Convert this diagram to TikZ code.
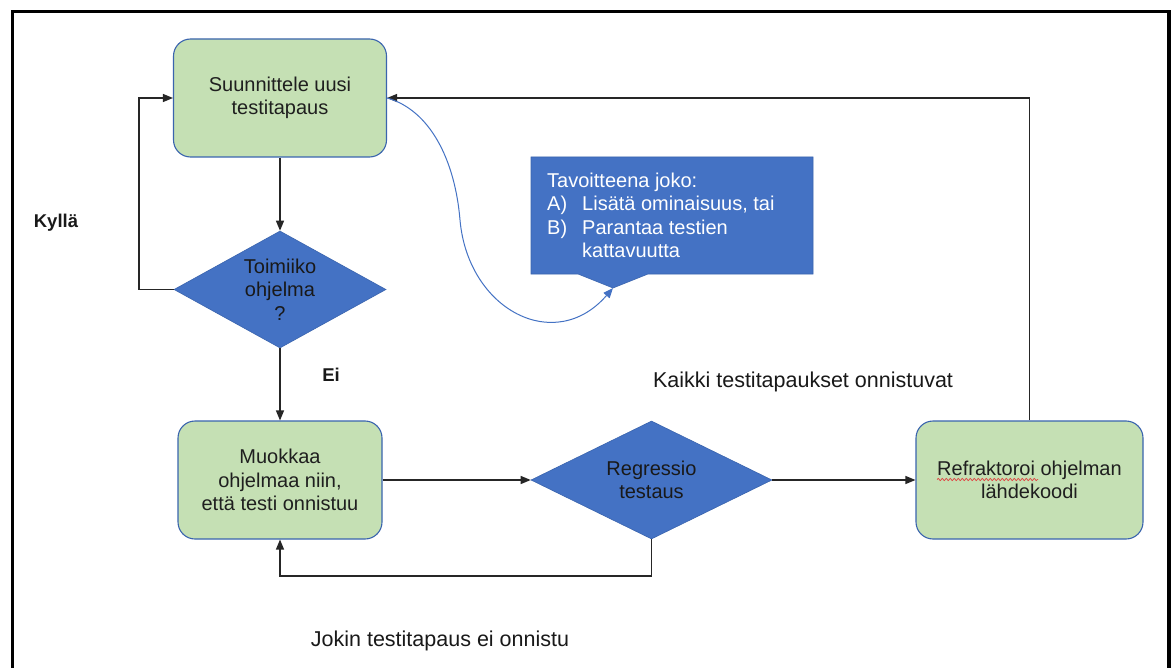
\documentclass[tikz,border=0pt]{standalone}
\usepackage{fontspec}
\setmainfont{Liberation Sans}
\usetikzlibrary{arrows.meta,shapes.geometric,decorations.pathmorphing}
\definecolor{boxgreen}{HTML}{C5E0B4}
\definecolor{shapeblue}{HTML}{4472C4}
\definecolor{edgeblue}{HTML}{3A64AE}
\definecolor{spellred}{HTML}{E04040}

\begin{document}
\begin{tikzpicture}[x=1pt,y=-1pt,
  every node/.style={font=\fontsize{20}{23.5}\selectfont},
  stepbox/.style={rectangle, rounded corners=17pt, draw=edgeblue, line width=1.1pt,
    fill=boxgreen, minimum width=213pt, minimum height=118pt, inner sep=0pt,
    align=center, text=black!88},
  decision/.style={diamond, aspect=2, draw=edgeblue, line width=0.6pt, fill=shapeblue,
    minimum width=212pt, minimum height=117pt, inner sep=0pt, align=center, text=black!90},
  flow/.style={draw=black!85, line width=1.2pt, -{Triangle[length=10pt,width=8pt]}},
  noteflow/.style={draw=shapeblue, line width=1pt, -{Triangle[length=10pt,width=8pt]}},
  answer/.style={font=\fontsize{18.5}{22}\selectfont\bfseries, text=black!90, inner sep=0pt},
  caption/.style={font=\fontsize{21.5}{25}\selectfont, text=black!90, inner sep=0pt},
]
% page area and white background
\useasboundingbox (0,0) rectangle (1174,668);
\fill[white] (0,0) rectangle (1174,668);

% heavy frame, open at the bottom
\draw[line width=3.5pt, line join=miter] (12.5,675) -- (12.5,11.5) -- (1169,11.5) -- (1169,675);

% process steps and decisions
\node[stepbox] (plan) at (280,98) {Suunnittele uusi\\testitapaus};
\node[decision] (works) at (280,289.5) {Toimiiko\\ohjelma\\?};
\node[stepbox, minimum width=204pt] (fix) at (280,480) {Muokkaa\\ohjelmaa niin,\\että testi onnistuu};
\node[decision, minimum width=241pt, minimum height=118pt] (regr) at (651.5,480) {Regressio\\testaus};
\node[stepbox, minimum width=227pt] (refac) at (1029.5,480) {Refraktoroi ohjelman\\lähdekoodi};

% spell-check underline under the first word
\draw[spellred, line width=0.7pt, decorate,
  decoration={snake, amplitude=1.1pt, segment length=4pt}] (937,479.5) -- (1038,479.5);

% callout with its pointer
\coordinate (nw) at (531,157);
\coordinate (ne) at (813,157);
\coordinate (se) at (813,274);
\coordinate (sw) at (531,274);
\coordinate (pr) at (648,274);
\coordinate (pl) at (578,274);
\coordinate (tip) at (613,288);
\path[fill=shapeblue, draw=edgeblue, line width=0.6pt]
  (nw) -- (ne) -- (se) -- (pr) -- (tip) -- (pl) -- (sw) -- cycle;
\node[anchor=north west, inner sep=0pt, text=white] (notetext) at (547,170.5)
  {\begin{tabular}{@{}l@{}}
   Tavoitteena joko:\\
   \makebox[35pt][l]{A)}Lisätä ominaisuus, tai\\
   \makebox[35pt][l]{B)}Parantaa testien\\
   \hspace*{35pt}kattavuutta
   \end{tabular}};

% connectors
\coordinate (yesturn) at (139,289.5);
\coordinate (failturn) at (651.5,576);
\draw[flow] (plan.south) -- (works.north);
\draw[flow] (works.south) -- (fix.north);
\draw[flow] (works.west) -- (yesturn) |- (plan.west);
\draw[flow] (fix.east) -- (regr.west);
\draw[flow] (regr.east) -- (refac.west);
\draw[flow] (refac.north) |- (plan.east);
\draw[flow] (regr.south) -- (failturn) -| (fix.south);
\draw[noteflow] (plan.east) .. controls (430,110) and (455,160) .. (460,220)
  .. controls (468,310) and (555,355) .. (tip);

% labels
\node[answer] (yes) at (56,223) {Kyllä};
\node[answer] (no) at (331,375) {Ei};
\node[caption] (allpass) at (803,382) {Kaikki testitapaukset onnistuvat};
\node[caption] (somefail) at (440,641) {Jokin testitapaus ei onnistu};
\end{tikzpicture}
\end{document}
